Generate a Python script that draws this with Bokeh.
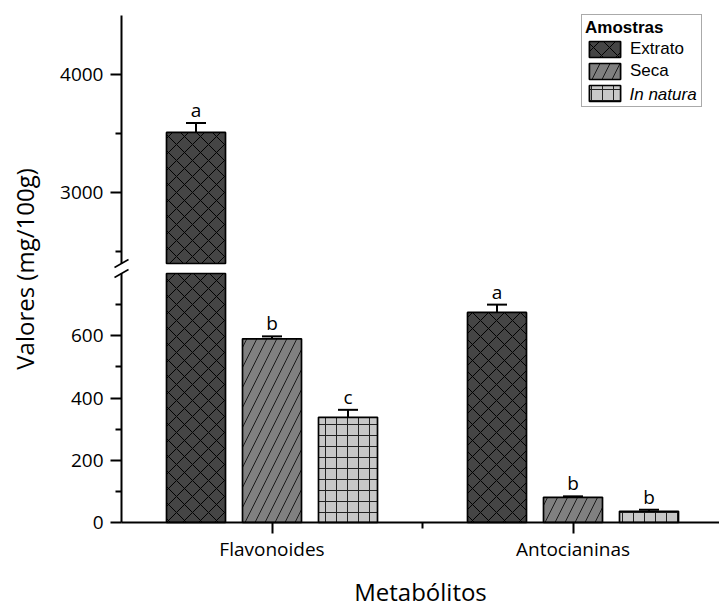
import numpy as np
from bokeh.plotting import figure
from bokeh.models import (Range1d, LinearAxis, FixedTicker, Legend, LegendItem, Label, Arrow)
from bokeh.core.properties import value
from bokeh.embed import file_html
from bokeh.resources import INLINE

# ---------------- data ----------------
categories = ["Flavonoides", "Antocianinas"]
samples = ["Extrato", "Seca", "In natura"]
extrato = [3510, 675]
seca = [590, 81]
in_natura = [338, 36]
extrato_err = [80, 25]
seca_err = [8, 3]
in_natura_err = [24, 5]
extrato_letters = ["a", "a"]
seca_letters = ["b", "b"]
in_natura_letters = ["c", "b"]
low_ticks = [0, 200, 400, 600]
low_minor_ticks = [100, 300, 500, 700]
high_ticks = [3000, 4000]
high_minor_ticks = [2500, 3500]
LOW_MAX = 800
HIGH_MIN = 2400
HIGH_MAX = 4500

# ---------------- layout (canvas pixels) ----------------
W, H = 719, 608
AX_X = 121          # y-axis line, from canvas left
AX_Y = 522          # x-axis line, from canvas top
TOP = 15            # top of the y axis
LOW_PX, GAP_PX = 249, 10
HIGH_PX = AX_Y - TOP - LOW_PX - GAP_PX
PX_PER_X = 301.0
LOW_PER_PX = LOW_MAX / LOW_PX
HIGH_PER_PX = (HIGH_MAX - HIGH_MIN) / HIGH_PX

x_start = 0.5 - AX_X / PX_PER_X
x_end = x_start + W / PX_PER_X
low_start = -(H - AX_Y) * LOW_PER_PX
low_end = AX_Y * LOW_PER_PX
high_start = HIGH_MIN - (H - (TOP + HIGH_PX)) * HIGH_PER_PX
high_end = HIGH_MAX + TOP * HIGH_PER_PX


def x_at(px):
    return x_start + px / PX_PER_X


def low_at(py):
    return (AX_Y - py) * LOW_PER_PX


BAR_W = 59 / PX_PER_X
DODGE = 76 / PX_PER_X
CAP_W = 20 / PX_PER_X

FONT = "Open Sans"
LEG_FONT = "Liberation Sans"

p = figure(width=W, height=H, output_backend="svg", toolbar_location=None,
           x_range=Range1d(x_start, x_end), y_range=Range1d(low_start, low_end),
           x_axis_location=None, y_axis_location=None,
           min_border=0, min_border_left=0, min_border_right=0,
           min_border_top=0, min_border_bottom=0)
p.extra_y_ranges = {"high": Range1d(high_start, high_end)}
p.outline_line_color = None
p.background_fill_color = "white"
p.border_fill_color = "white"
p.grid.visible = False


def style_axis(ax):
    ax.axis_line_width = 2
    ax.axis_line_color = "black"
    ax.major_tick_out = 11
    ax.major_tick_in = 0
    ax.minor_tick_out = 6
    ax.minor_tick_in = 0
    ax.major_tick_line_width = 2
    ax.minor_tick_line_width = 2
    ax.major_tick_line_color = "black"
    ax.minor_tick_line_color = "black"
    ax.major_label_text_font = FONT
    ax.major_label_text_font_size = "19px"
    ax.major_label_text_color = "black"
    ax.axis_label_text_font = FONT
    ax.axis_label_text_font_size = "24px"
    ax.axis_label_text_font_style = "normal"
    ax.axis_label_text_color = "black"


# broken y axis: one axis per segment, both drawn at x = 0.5
low_axis = LinearAxis(fixed_location=0.5, bounds=(0, LOW_MAX),
                      ticker=FixedTicker(ticks=low_ticks, minor_ticks=low_minor_ticks))
high_axis = LinearAxis(y_range_name="high", fixed_location=0.5, bounds=(HIGH_MIN, HIGH_MAX),
                       ticker=FixedTicker(ticks=high_ticks, minor_ticks=high_minor_ticks))
for ax in (low_axis, high_axis):
    style_axis(ax)
    ax.major_label_standoff = 7
    p.add_layout(ax, "left")

# axis carrying only the y title, centred on the full height of the broken axis
label_axis = LinearAxis(fixed_location=0.5, bounds=(0, low_at(TOP)), ticker=FixedTicker(ticks=[]))
style_axis(label_axis)
label_axis.axis_line_color = None
label_axis.major_tick_out = 0
label_axis.minor_tick_out = 0
label_axis.major_label_standoff = 0
label_axis.axis_label = "Valores (mg/100g)"
label_axis.axis_label_standoff = 81
p.add_layout(label_axis, "left")

x_axis = LinearAxis(fixed_location=0, bounds=(0.5, x_end),
                    ticker=FixedTicker(ticks=list(range(1, len(categories) + 1)),
                                       minor_ticks=[1.5]))
x_axis.major_label_overrides = {i + 1: c for i, c in enumerate(categories)}
style_axis(x_axis)
x_axis.major_label_standoff = 2
x_axis.axis_label = "Metabólitos"
x_axis.axis_label_standoff = 10
p.add_layout(x_axis, "below")

# axis-break marks
for yc in (LOW_MAX, LOW_MAX + GAP_PX * LOW_PER_PX):
    p.add_layout(Arrow(end=None, x_start=0.5 - 7 / PX_PER_X, y_start=yc - 4 * LOW_PER_PX,
                       x_end=0.5 + 7 / PX_PER_X, y_end=yc + 4 * LOW_PER_PX,
                       line_color="black", line_width=1.5))

# ---------------- bars ----------------
series = [extrato, seca, in_natura]
errors = [extrato_err, seca_err, in_natura_err]
letters = [extrato_letters, seca_letters, in_natura_letters]
styles = [
    dict(fill_color="#454545", hatch_pattern="diagonal_cross", hatch_scale=16,
         hatch_color="black", hatch_weight=1),
    dict(fill_color="#808080", hatch_pattern="right_diagonal_line", hatch_scale=20,
         hatch_color="#1a1a1a", hatch_weight=1),
    dict(fill_color="#c8c8c8", hatch_pattern="cross", hatch_scale=11,
         hatch_color="#222222", hatch_weight=1),
]
base = np.arange(1, len(categories) + 1, dtype=float)
legend_renderers = []
for k, name in enumerate(samples):
    vals = np.array(series[k], dtype=float)
    errs = np.array(errors[k], dtype=float)
    labs = np.array(letters[k])
    pos = base + (k - 1) * DODGE
    tops = vals + errs

    r = p.vbar(x=pos, top=np.minimum(vals, LOW_MAX), bottom=0, width=BAR_W,
               line_color="black", line_width=1.7, **styles[k])
    legend_renderers.append(r)

    low = vals <= LOW_MAX
    hi = vals > HIGH_MIN
    for mask, rng in ((low, "default"), (hi, "high")):
        if not mask.any():
            continue
        if rng == "high":
            p.vbar(x=pos[mask], top=vals[mask], bottom=HIGH_MIN, width=BAR_W,
                   line_color="black", line_width=1.7, y_range_name="high", **styles[k])
        p.segment(x0=pos[mask], y0=vals[mask], x1=pos[mask], y1=tops[mask],
                  line_color="black", line_width=2, y_range_name=rng)
        p.segment(x0=pos[mask] - CAP_W / 2, y0=tops[mask], x1=pos[mask] + CAP_W / 2,
                  y1=tops[mask], line_color="black", line_width=2, y_range_name=rng)
        p.text(x=pos[mask], y=tops[mask], text=list(labs[mask]), y_range_name=rng,
               text_align="center", text_baseline="bottom",
               text_font=value(FONT), text_font_size="19px", text_color="black")

# italic label of the third legend entry (drawn under a transparent legend)
LEG_LEFT, LEG_BOTTOM = 581, 107      # canvas px
PAD, GLYPH_W, STANDOFF = 3, 39, 6
p.add_layout(Label(x=x_at(LEG_LEFT + PAD + GLYPH_W + STANDOFF), y=low_at(LEG_BOTTOM - PAD - 10),
                   text="In natura", text_font=LEG_FONT, text_font_size="17px",
                   text_font_style="italic", text_color="black",
                   text_align="left", text_baseline="middle"))

# ---------------- legend ----------------
legend = Legend(
    items=[LegendItem(label="Extrato", renderers=[legend_renderers[0]]),
           LegendItem(label="Seca", renderers=[legend_renderers[1]]),
           LegendItem(label=" ", renderers=[legend_renderers[2]])],
    title="Amostras", location=(LEG_LEFT, H - LEG_BOTTOM), margin=0, padding=PAD, spacing=2,
    glyph_width=GLYPH_W, glyph_height=20, label_height=20, label_width=68,
    label_standoff=STANDOFF, title_standoff=1,
    border_line_color="#555555", border_line_width=1,
    background_fill_color="white", background_fill_alpha=0.0,
    label_text_font=LEG_FONT, label_text_font_size="17px", label_text_color="black",
    title_text_font=LEG_FONT, title_text_font_size="17px", title_text_font_style="bold",
    title_text_color="black")
p.add_layout(legend)

open("out.html", "w").write(file_html(p, INLINE))
